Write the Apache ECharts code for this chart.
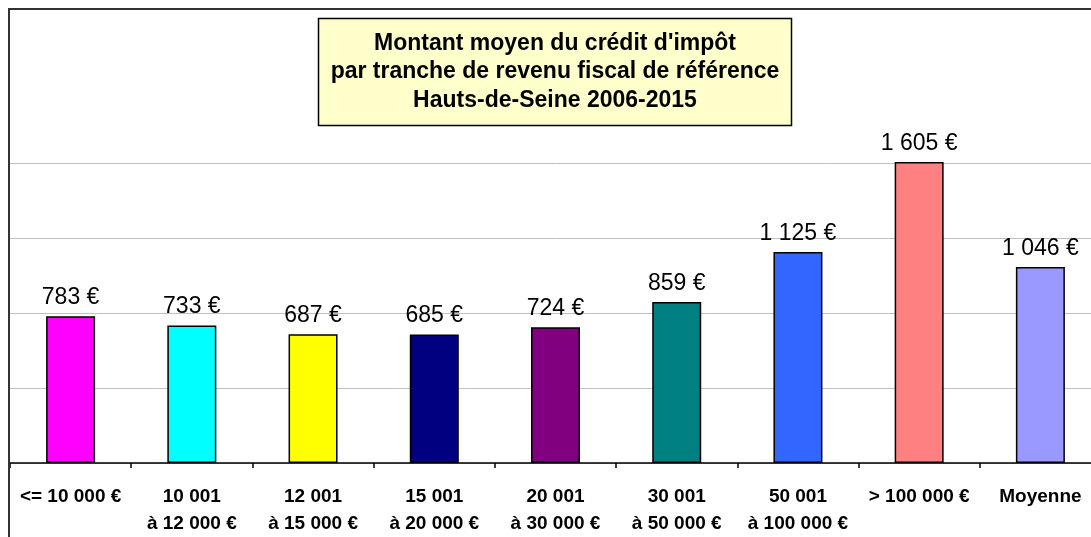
<!DOCTYPE html>
<html>
<head>
<meta charset="utf-8">
<script src="https://cdn.jsdelivr.net/npm/echarts@6/dist/echarts.min.js"></script>
<style>
  html, body { margin: 0; padding: 0; background: #fff; overflow: hidden; }
  /* the plot runs past the right edge of the picture, as in the original */
  #chart { width: 1101px; height: 537px; }
</style>
</head>
<body>
<div id="chart"></div>
<script>
// tranches de revenu fiscal de référence
const categories = [
  "<= 10 000 €",
  "10 001\nà 12 000 €",
  "12 001\nà 15 000 €",
  "15 001\nà 20 000 €",
  "20 001\nà 30 000 €",
  "30 001\nà 50 000 €",
  "50 001\nà 100 000 €",
  "> 100 000 €",
  "Moyenne"
]
const montants = [783, 733, 687, 685, 724, 859, 1125, 1605, 1046]
const barColors = ["#FF00FF", "#00FFFF", "#FFFF00", "#000080", "#800080", "#008080", "#3366FF", "#FF8080", "#9999FF"]
const titleLines = [
  "Montant moyen du crédit d'impôt",
  "par tranche de revenu fiscal de référence",
  "Hauts-de-Seine 2006-2015"
]

const fontFam = 'Arial, "Liberation Sans", sans-serif'

// 1 605 €
const euro = (v) => String(v).replace(/\B(?=(\d{3})+(?!\d))/g, " ") + " €"

const chart = echarts.init(document.getElementById("chart"))

const option = {
  animation: false,
  backgroundColor: "#fff",
  grid: {
    left: 10,
    right: 0,
    top: 163,
    bottom: 74,
  },
  xAxis: {
    type: "category",
    data: categories,
    axisLine: { lineStyle: { color: "#000", width: 1.5 } },
    axisTick: { show: true, length: 5, lineStyle: { color: "#000", width: 1.5 } },
    axisLabel: {
      interval: 0,
      margin: 20,
      fontFamily: fontFam,
      fontSize: 19,
      fontWeight: "bold",
      color: "#000",
      lineHeight: 27,
    },
  },
  yAxis: {
    type: "value",
    min: 0,
    max: 1600,
    interval: 400,
    axisLabel: { show: false },
    axisLine: { show: false },
    axisTick: { show: false },
    splitLine: { lineStyle: { color: "#c0c0c0", width: 1 } },
  },
  series: [
    {
      type: "bar",
      data: montants.map((v, i) => ({ value: v, itemStyle: { color: barColors[i] } })),
      barWidth: 49,
      clip: false,
      itemStyle: { borderColor: "#000", borderWidth: 1.5 },
      label: {
        show: true,
        position: "top",
        distance: 7,
        fontFamily: fontFam,
        fontSize: 23,
        color: "#000",
        formatter: (p) => euro(p.value),
      },
    },
  ],
  graphic: [
    {
      type: "rect",
      z: 100,
      silent: true,
      shape: { x: 9, y: 9, width: 1110, height: 600 },
      style: { fill: null, stroke: "#333", lineWidth: 2 },
    },
    // encadré du titre
    {
      type: "rect",
      z: 101,
      silent: true,
      shape: { x: 318.5, y: 18.5, width: 473, height: 107 },
      style: { fill: "#FFFFCC", stroke: "#000", lineWidth: 1.5 },
    },
    {
      type: "text",
      z: 102,
      silent: true,
      x: 555,
      y: 72,
      style: {
        text: titleLines.join("\n"),
        font: "bold 23px " + fontFam,
        fill: "#000",
        align: "center",
        verticalAlign: "middle",
        lineHeight: 28.5,
      },
    },
  ],
}

chart.setOption(option)
</script>
</body>
</html>
